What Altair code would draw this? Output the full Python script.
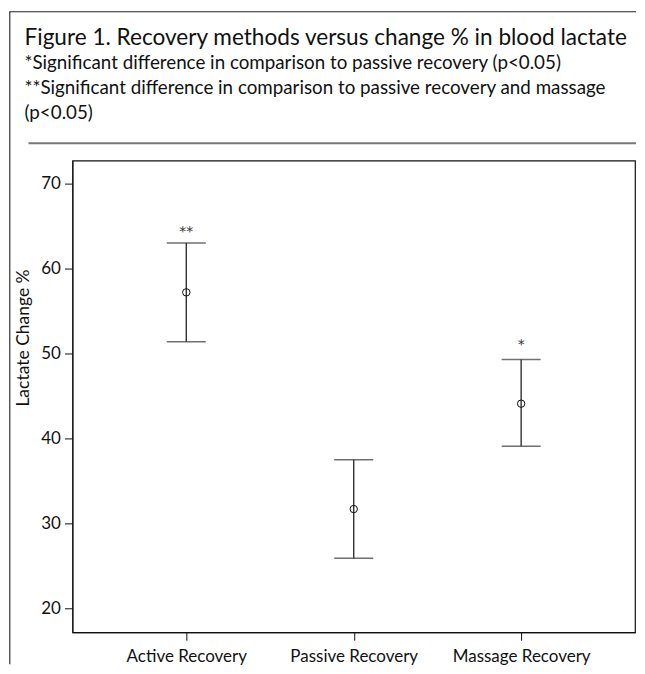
import altair as alt
import pandas as pd

categories = ["Active Recovery", "Passive Recovery", "Massage Recovery"]
means = [57.2, 31.7, 44.1]
upper = [63.0, 37.5, 49.3]
lower = [51.4, 25.9, 39.1]
sig_marks = ["**", "", "*"]
sig_pos = [64.8, None, 51.5]
y_ticks = [20, 30, 40, 50, 60, 70]

title_text = "Figure 1. Recovery methods versus change % in blood lactate"
subtitle_lines = [
    "*Significant difference in comparison to passive recovery (p<0.05)",
    "**Significant difference in comparison to passive recovery and massage",
    "(p<0.05)",
]

df = pd.DataFrame({
    "method": categories, "mean": means, "upper": upper, "lower": lower,
    "sig": sig_marks, "sig_y": sig_pos,
})
deco = pd.DataFrame({"k": [0]})

W, H = 563, 472
FONT = "Lato"

x_enc = alt.X(
    "method:N", sort=categories,
    scale=alt.Scale(type="point", padding=0.68),
    axis=alt.Axis(title=None, labelAngle=0, labelFont=FONT, labelFontSize=17,
                  labelColor="#111", tickSize=8, tickColor="#111", labelPadding=8,
                  domainColor="#111", grid=False),
)
y_scale = alt.Scale(domain=[17.2, 72.7], nice=False, zero=False)
y_axis = alt.Axis(values=y_ticks, title="Lactate Change %", titleFont=FONT,
                  titleFontSize=17.5, titleFontWeight="normal", titleColor="#111",
                  titleX=-49, titleY=177, titleAlign="center", titleBaseline="middle",
                  labelFont=FONT, labelFontSize=17, labelColor="#111", tickSize=8,
                  tickColor="#111", labelPadding=4, domainColor="#111", grid=False)

base = alt.Chart(df)

bars = base.mark_rule(color="#333", strokeWidth=1.4).encode(
    x=x_enc,
    y=alt.Y("upper:Q", scale=y_scale, axis=y_axis),
    y2="lower:Q",
)
cap_hi = base.mark_tick(color="#333", size=39, thickness=1.5, orient="horizontal").encode(
    x=x_enc, y=alt.Y("upper:Q", scale=y_scale))
cap_lo = base.mark_tick(color="#333", size=39, thickness=1.5, orient="horizontal").encode(
    x=x_enc, y=alt.Y("lower:Q", scale=y_scale))
pts = base.mark_point(shape="circle", filled=False, size=55, color="#111",
                      strokeWidth=1, opacity=1).encode(
    x=x_enc, y=alt.Y("mean:Q", scale=y_scale))
stars = base.transform_filter("datum.sig != ''").mark_text(
    font="DejaVu Sans", fontSize=14, color="#333", baseline="middle", dy=4).encode(
    x=x_enc, y=alt.Y("sig_y:Q", scale=y_scale), text="sig:N")

left_line = alt.Chart(deco).mark_rule(color="#222", strokeWidth=1.1).encode(
    x=alt.value(-62.7), y=alt.value(-149), y2=alt.value(504))
top_line = alt.Chart(deco).mark_rule(color="#222", strokeWidth=1.1).encode(
    x=alt.value(-63.2), x2=alt.value(564), y=alt.value(-149))
sep_line = alt.Chart(deco).mark_rule(color="#777", strokeWidth=2).encode(
    x=alt.value(-44), x2=alt.value(564), y=alt.value(-17.5))

chart = alt.layer(bars, cap_hi, cap_lo, pts, stars, left_line, top_line, sep_line).properties(
    width=W, height=H,
    padding={"left": 0.5, "top": 2.5, "right": 0, "bottom": 0},
    title=alt.Title(
        text=title_text, subtitle=subtitle_lines, anchor="start", frame="group",
        dx=-48, offset=-112, font=FONT, fontSize=22.6, fontWeight="normal",
        color="#111", subtitleFont=FONT, subtitleFontSize=18.8,
        subtitleLineHeight=25, subtitlePadding=5, subtitleColor="#111",
    ),
).configure_view(stroke="#111", strokeWidth=1.2)

chart.save("out.html", embed_options={"renderer": "svg", "actions": False})
